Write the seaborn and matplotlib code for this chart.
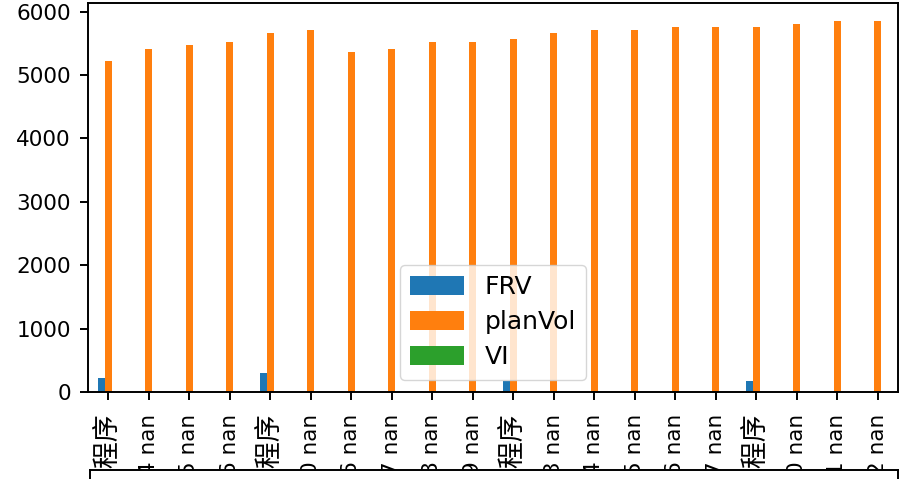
import matplotlib
matplotlib.use('Agg')
import matplotlib.pyplot as plt
import seaborn as sns
import pandas as pd
import numpy as np

nan = np.nan

labels = [
    "2023-11-13 应用程序", "2023-11-14 nan", "2023-11-15 nan", "2023-11-16 nan",
    "2023-11-17 应用程序", "2023-11-20 nan", "2023-11-26 nan", "2023-11-27 nan",
    "2023-11-28 nan", "2023-11-29 nan", "2023-12-01 应用程序", "2023-12-03 nan",
    "2023-12-04 nan", "2023-12-05 nan", "2023-12-06 nan", "2023-12-07 nan",
    "2023-12-08 应用程序", "2023-12-10 nan", "2023-12-11 nan", "2023-12-12 nan",
]
frv = [220, nan, nan, nan, 300, nan, nan, nan, nan, nan,
       180, nan, nan, nan, nan, nan, 175, nan, nan, nan]
plan_vol = [5220, 5410, 5470, 5520, 5660, 5710, 5360, 5410, 5520, 5520,
            5570, 5660, 5710, 5710, 5750, 5750, 5750, 5800, 5850, 5850]
vi = [nan] * 20
series_names = ["FRV", "planVol", "VI"]
colors = ["#1f77b4", "#ff7f0e", "#2ca02c"]

plt.rcParams['font.family'] = ['DejaVu Sans', 'Noto Sans CJK SC']

df = pd.DataFrame({"label": labels, "FRV": frv, "planVol": plan_vol, "VI": vi})
long_df = df.melt(id_vars="label", var_name="series", value_name="value")

fig = plt.figure(figsize=(9, 4.79), dpi=100)
ax = fig.add_axes([88 / 900, 1 - 392 / 479, 810 / 900, 389.5 / 479])

sns.barplot(data=long_df, x="label", y="value", hue="series",
            hue_order=series_names, order=labels, palette=colors,
            saturation=1, width=0.5, errorbar=None, linewidth=0, ax=ax)

ax.set_xlabel("")
ax.set_ylabel("")
ax.tick_params(axis="both", labelsize=15.5, length=5.8, width=1.4, pad=6.5)
ax.tick_params(axis="x", labelrotation=90, pad=10)
for s in ax.spines.values():
    s.set_linewidth(1.4)
for t in ax.get_xticklabels():
    if "程序" in t.get_text():
        t.set_fontsize(19.4)

leg = ax.get_legend()
handles = leg.legend_handles
texts = [t.get_text() for t in leg.get_texts()]
leg.remove()
ax.legend(handles, texts, loc="lower center", prop={"family": ["DejaVu Sans"], "size": 18},
          handlelength=2.15, handleheight=0.78, labelspacing=0.45, handletextpad=0.85)

box = fig.add_axes([90 / 900, -0.1, 808 / 900, 0.1 + 9 / 479])
box.set_xticks([])
box.set_yticks([])
box.set_facecolor("white")
for s in box.spines.values():
    s.set_linewidth(1.4)

fig.savefig("out.png", dpi=100)
